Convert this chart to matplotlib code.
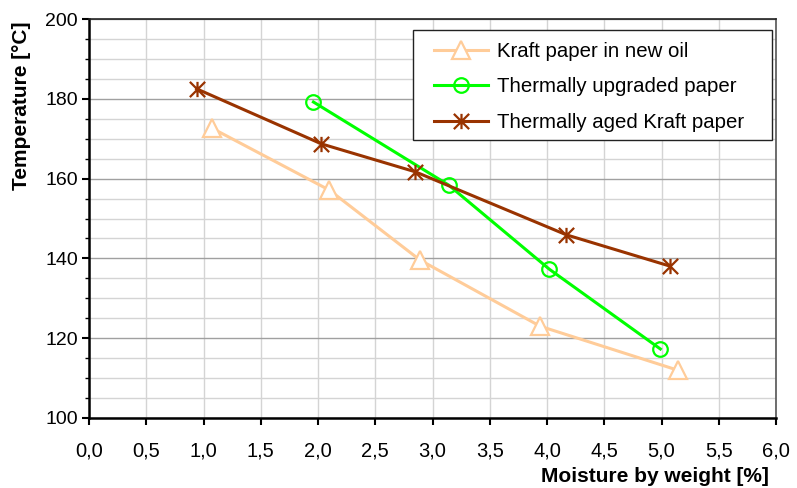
import matplotlib
matplotlib.use("Agg")
import matplotlib.pyplot as plt
from matplotlib.ticker import MultipleLocator, FuncFormatter
from matplotlib.patches import Rectangle
from matplotlib.path import Path

plt.rcParams['font.family'] = ['Liberation Sans', 'DejaVu Sans']

kraft_x = [1.07, 2.10, 2.89, 3.94, 5.14]
kraft_y = [172.7, 157.1, 139.6, 123.0, 112.0]
upgr_x = [1.96, 3.14, 4.02, 4.99]
upgr_y = [179.2, 158.4, 137.3, 117.3]
aged_x = [0.94, 2.03, 2.85, 4.17, 5.07]
aged_y = [182.5, 168.7, 161.7, 145.9, 138.1]

labels = ["Kraft paper in new oil", "Thermally upgraded paper", "Thermally aged Kraft paper"]

star = Path([(0, -1), (0, 1), (-1, -1), (1, 1), (-1, 1), (1, -1)],
            [Path.MOVETO, Path.LINETO, Path.MOVETO, Path.LINETO, Path.MOVETO, Path.LINETO])

W, H = 797, 488
fig = plt.figure(figsize=(W/100, H/100), dpi=100)
ax = fig.add_axes([89/W, 1-418/H, (776-89)/W, (418-19)/H])

ax.plot(kraft_x, kraft_y, color='#FFCC99', lw=2.2, marker='^', ms=13,
        mfc='white', mec='#FFCC99', mew=1.6, label=labels[0], zorder=3)
ax.plot(upgr_x, upgr_y, color='#00FF00', lw=2.2, marker='o', ms=10.5,
        mfc='none', mec='#00FF00', mew=1.6, label=labels[1], zorder=3)
ax.plot(aged_x, aged_y, color='#993300', lw=2.2, marker=star, ms=11,
        mec='#993300', mew=1.6, label=labels[2], zorder=3)

ax.set_xlim(0, 6)
ax.set_ylim(100, 200)
ax.xaxis.set_major_locator(MultipleLocator(0.5))
ax.yaxis.set_major_locator(MultipleLocator(20))
ax.yaxis.set_minor_locator(MultipleLocator(5))
ax.xaxis.set_major_formatter(FuncFormatter(lambda v, p: f"{v:.1f}".replace('.', ',')))

ax.grid(True, which='major', axis='y', color='#A0A0A0', lw=1.0)
ax.grid(True, which='minor', axis='y', color='#D4D4D4', lw=1.0)
ax.grid(True, which='major', axis='x', color='#D4D4D4', lw=1.0)
ax.set_axisbelow(True)

ax.tick_params(axis='both', which='major', direction='out', length=5, width=1.5,
               colors='black')
ax.tick_params(axis='x', labelsize=14.5, pad=12)
ax.tick_params(axis='y', labelsize=14, pad=3)
ax.tick_params(axis='y', which='minor', direction='out', length=3, width=1)

for s in ['left', 'bottom']:
    ax.spines[s].set_linewidth(1.8)
    ax.spines[s].set_color('black')
ax.spines['top'].set_linewidth(1.2)
ax.spines['top'].set_color('#222222')
ax.spines['right'].set_linewidth(1.2)
ax.spines['right'].set_color('#555555')

ax.set_xlabel("Moisture by weight [%]", fontsize=15, fontweight='bold')
ax.xaxis.set_label_coords((769-89)/687, -59/399)
ax.xaxis.label.set_horizontalalignment('right')
ax.xaxis.label.set_verticalalignment('center')
ax.set_ylabel("Temperature [°C]", fontsize=15, fontweight='bold')
ax.yaxis.set_label_coords((22-89)/687, 1.0 - 2/399)
ax.yaxis.label.set_rotation_mode('anchor')
ax.yaxis.label.set_verticalalignment('center')
ax.yaxis.label.set_horizontalalignment('right')

ax.add_patch(Rectangle((413/W, 1-140/H), (772-413)/W, (140-30)/H,
                       transform=fig.transFigure, facecolor='white',
                       edgecolor='#222222', lw=1.0, zorder=4, clip_on=False))
leg = ax.legend(loc='upper left', bbox_to_anchor=(434/W, 1-42/H),
                bbox_transform=fig.transFigure, fontsize=14.7,
                frameon=False, handlelength=2.65, handletextpad=0.45,
                borderpad=0, borderaxespad=0, labelspacing=0.8)
leg.set_zorder(6)

fig.savefig("out.png", dpi=100)
